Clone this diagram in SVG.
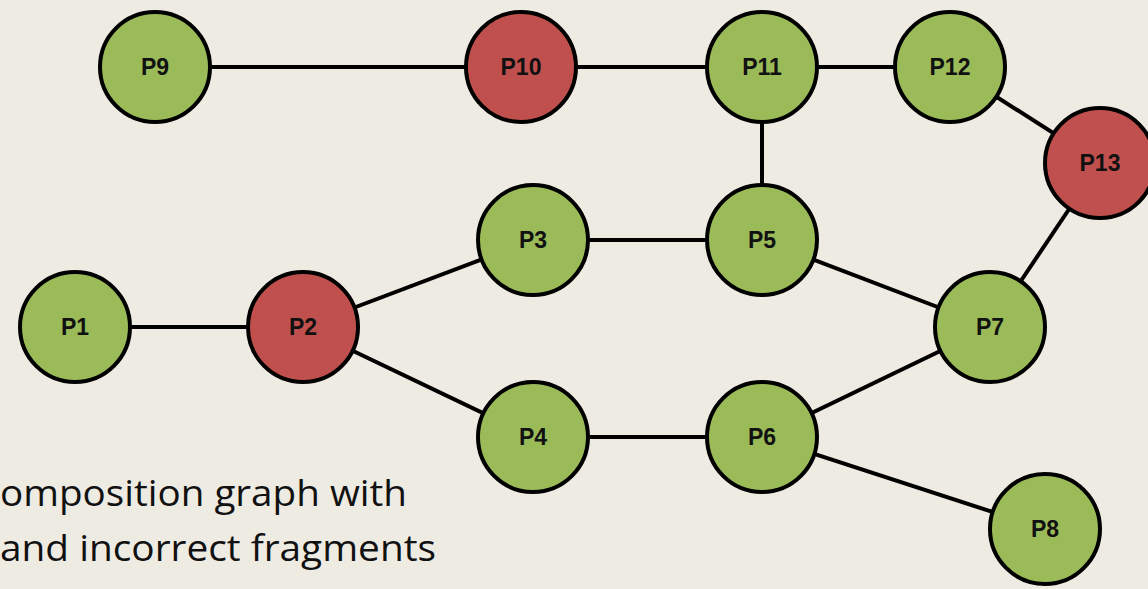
<svg xmlns="http://www.w3.org/2000/svg" width="1148" height="589" viewBox="0 0 1148 589">
  <style>
    .bg { fill: #EEEBE3; }
    .edge { stroke: #000; stroke-width: 4; fill: none; }
    .node circle { stroke: #000; stroke-width: 4; }
    .ok circle { fill: #9BBB59; }
    .bad circle { fill: #C0504D; }
    .node text { font-family: "Liberation Sans", Arial, sans-serif; font-weight: bold; font-size: 23px; fill: #111; text-anchor: middle; dominant-baseline: central; }
    .caption { font-family: "Open Sans", "Liberation Sans", sans-serif; font-size: 37px; fill: #111; }
  </style>
  <rect class="bg" x="0" y="0" width="1148" height="589"/>

  <g id="connectors">
    <line class="edge" x1="155" y1="67" x2="521" y2="67"/>
    <line class="edge" x1="521" y1="67" x2="762" y2="67"/>
    <line class="edge" x1="762" y1="67" x2="950" y2="67"/>
    <line class="edge" x1="950" y1="67" x2="1100" y2="163"/>
    <line class="edge" x1="762" y1="67" x2="762" y2="240"/>
    <line class="edge" x1="533" y1="240" x2="762" y2="240"/>
    <line class="edge" x1="75" y1="327" x2="303" y2="327"/>
    <line class="edge" x1="303" y1="327" x2="533" y2="240"/>
    <line class="edge" x1="303" y1="327" x2="533" y2="437"/>
    <line class="edge" x1="762" y1="240" x2="990" y2="327"/>
    <line class="edge" x1="1100" y1="163" x2="990" y2="327"/>
    <line class="edge" x1="533" y1="437" x2="762" y2="437"/>
    <line class="edge" x1="762" y1="437" x2="990" y2="327"/>
    <line class="edge" x1="762" y1="437" x2="1045" y2="529"/>
  </g>

  <g id="P9" class="node ok"><circle cx="155" cy="67" r="55"/><text x="155" y="67">P9</text></g>
  <g id="P10" class="node bad"><circle cx="521" cy="67" r="55"/><text x="521" y="67">P10</text></g>
  <g id="P11" class="node ok"><circle cx="762" cy="67" r="55"/><text x="762" y="67">P11</text></g>
  <g id="P12" class="node ok"><circle cx="950" cy="67" r="55"/><text x="950" y="67">P12</text></g>
  <g id="P13" class="node bad"><circle cx="1100" cy="163" r="55"/><text x="1100" y="163">P13</text></g>
  <g id="P3" class="node ok"><circle cx="533" cy="240" r="55"/><text x="533" y="240">P3</text></g>
  <g id="P5" class="node ok"><circle cx="762" cy="240" r="55"/><text x="762" y="240">P5</text></g>
  <g id="P1" class="node ok"><circle cx="75" cy="327" r="55"/><text x="75" y="327">P1</text></g>
  <g id="P2" class="node bad"><circle cx="303" cy="327" r="55"/><text x="303" y="327">P2</text></g>
  <g id="P7" class="node ok"><circle cx="990" cy="327" r="55"/><text x="990" y="327">P7</text></g>
  <g id="P4" class="node ok"><circle cx="533" cy="437" r="55"/><text x="533" y="437">P4</text></g>
  <g id="P6" class="node ok"><circle cx="762" cy="437" r="55"/><text x="762" y="437">P6</text></g>
  <g id="P8" class="node ok"><circle cx="1045" cy="529" r="55"/><text x="1045" y="529">P8</text></g>

  <g id="caption">
    <text class="caption" x="0" y="506" textLength="407" lengthAdjust="spacingAndGlyphs">omposition graph with</text>
    <text class="caption" x="0" y="561" textLength="436" lengthAdjust="spacingAndGlyphs">and incorrect fragments</text>
  </g>
</svg>
